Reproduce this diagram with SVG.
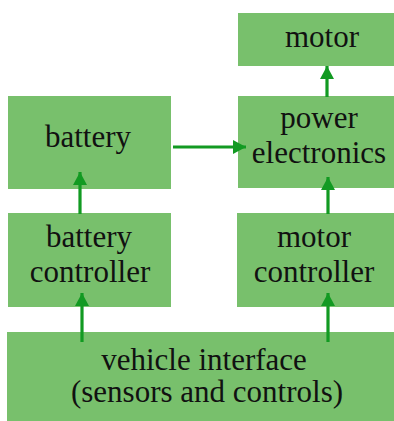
<svg xmlns="http://www.w3.org/2000/svg" width="394" height="421" viewBox="0 0 394 421">
<style>
.box{fill:#78c06c}
.lbl{font-family:"Liberation Serif","Times New Roman",serif;font-size:31px;fill:#111;text-anchor:middle}
.con{stroke:#129a22;stroke-width:3.2;fill:none}
</style>
<defs>
<marker id="ah" viewBox="0 0 13 14" refX="13" refY="7" markerWidth="13" markerHeight="14" markerUnits="userSpaceOnUse" orient="auto">
<path d="M0,0 L13,7 L0,14 z" fill="#129a22"/>
</marker>
</defs>
<rect width="394" height="421" fill="#fff"/>
<g id="motor"><rect class="box" x="238" y="13" width="156" height="53"/><text class="lbl" x="322" y="47">motor</text></g>
<g id="battery"><rect class="box" x="8" y="96" width="163" height="93"/><text class="lbl" x="88" y="147">battery</text></g>
<g id="power-electronics"><rect class="box" x="238" y="96" width="156" height="92"/><text class="lbl" x="319" y="128">power</text><text class="lbl" x="319" y="163">electronics</text></g>
<g id="battery-controller"><rect class="box" x="8" y="213" width="163" height="94"/><text class="lbl" x="89" y="247">battery</text><text class="lbl" x="90" y="282">controller</text></g>
<g id="motor-controller"><rect class="box" x="237" y="213" width="157" height="94"/><text class="lbl" x="314" y="247">motor</text><text class="lbl" x="314" y="282">controller</text></g>
<g id="vehicle-interface"><rect class="box" x="7" y="332" width="387" height="89"/><text class="lbl" x="204" y="370">vehicle interface</text><text class="lbl" x="207" y="402">(sensors and controls)</text></g>
<g id="connectors">
<line class="con" x1="173" y1="147" x2="246" y2="147" marker-end="url(#ah)"/>
<line class="con" x1="327" y1="97" x2="327" y2="66" marker-end="url(#ah)"/>
<line class="con" x1="80" y1="214" x2="80" y2="172" marker-end="url(#ah)"/>
<line class="con" x1="328" y1="214" x2="328" y2="177" marker-end="url(#ah)"/>
<line class="con" x1="82" y1="342" x2="82" y2="293" marker-end="url(#ah)"/>
<line class="con" x1="328" y1="342" x2="328" y2="293" marker-end="url(#ah)"/>
</g>
</svg>
